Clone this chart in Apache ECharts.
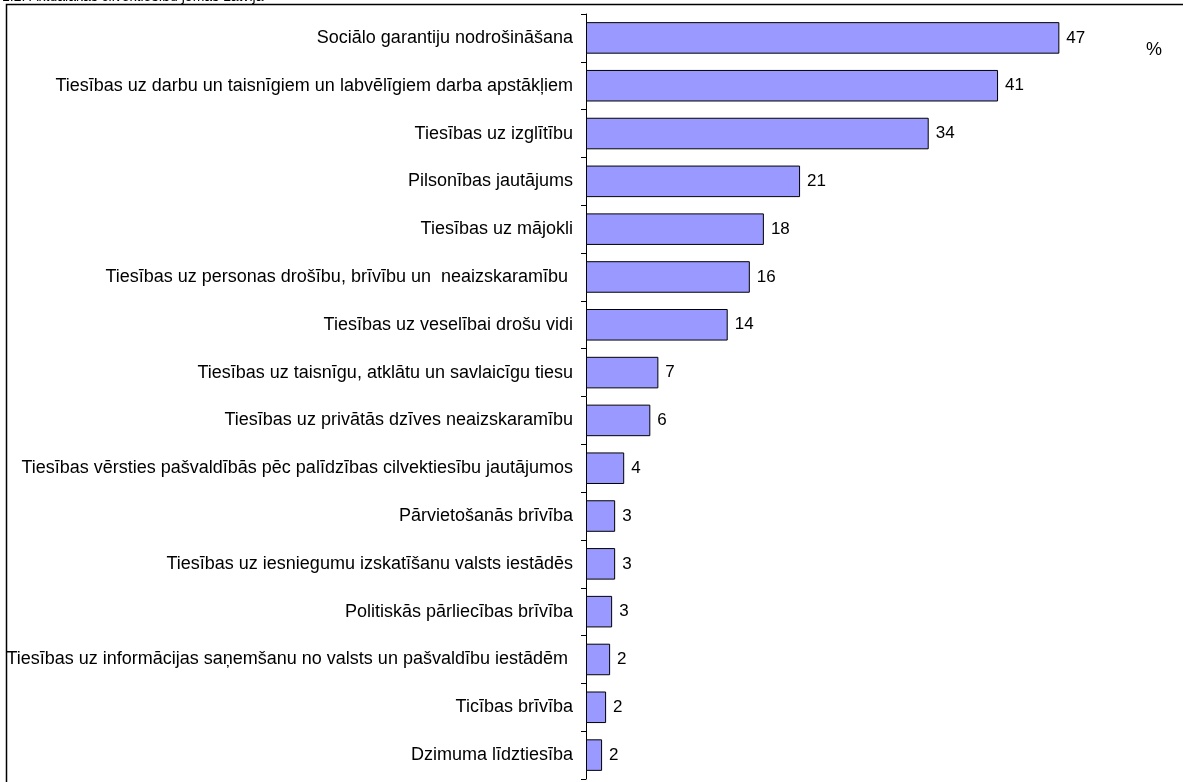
<!DOCTYPE html>
<html>
<head>
<meta charset="utf-8">
<script src="https://cdn.jsdelivr.net/npm/echarts@6/dist/echarts.min.js"></script>
<style>
html,body{margin:0;padding:0;background:#fff;}
#chart{width:1183px;height:782px;}
</style>
</head>
<body>
<div id="chart"></div>
<script>
var categories = [
  "Sociālo garantiju nodrošināšana",
  "Tiesības uz darbu un taisnīgiem un labvēlīgiem darba apstākļiem",
  "Tiesības uz izglītību",
  "Pilsonības jautājums",
  "Tiesības uz mājokli",
  "Tiesības uz personas drošību, brīvību un  neaizskaramību ",
  "Tiesības uz veselībai drošu vidi",
  "Tiesības uz taisnīgu, atklātu un savlaicīgu tiesu",
  "Tiesības uz privātās dzīves neaizskaramību",
  "Tiesības vērsties pašvaldībās pēc palīdzības cilvektiesību jautājumos",
  "Pārvietošanās brīvība",
  "Tiesības uz iesniegumu izskatīšanu valsts iestādēs",
  "Politiskās pārliecības brīvība",
  "Tiesības uz informācijas saņemšanu no valsts un pašvaldību iestādēm ",
  "Ticības brīvība",
  "Dzimuma līdztiesība"
];
var values = [47.1, 41.0, 34.1, 21.3, 17.7, 16.3, 14.1, 7.2, 6.4, 3.8, 2.9, 2.9, 2.6, 2.4, 2.0, 1.6];
var shownLabels = ["47", "41", "34", "21", "18", "16", "14", "7", "6", "4", "3", "3", "3", "2", "2", "2"];
var unitText = "%";
var titleText = "1.2. Aktuālākās cilvēktiesību jomas Latvijā";

var chart = echarts.init(document.getElementById('chart'), null, {renderer: 'canvas'});
var font = 'Liberation Sans, Arial, sans-serif';
chart.setOption({
  animation: false,
  backgroundColor: '#fff',
  grid: {left: 586, right: 94.5, top: 14, bottom: 3, containLabel: false},
  xAxis: {type: 'value', min: 0, max: 50, show: false},
  yAxis: {
    type: 'category',
    data: categories,
    inverse: true,
    axisLine: {show: true, lineStyle: {color: '#000', width: 1}},
    axisTick: {show: true, length: 5, lineStyle: {color: '#000'}},
    axisLabel: {color: '#000', fontSize: 18, fontFamily: font, margin: 13}
  },
  series: [{
    type: 'bar',
    data: values,
    barCategoryGap: '34%',
    itemStyle: {color: '#9999FF', borderColor: '#000', borderWidth: 1},
    label: {
      show: true, position: 'right', distance: 7,
      color: '#000', fontSize: 17, fontFamily: font,
      formatter: function (p) { return shownLabels[p.dataIndex]; }
    }
  }],
  graphic: [
    {type: 'rect', shape: {x: 6.5, y: 4.5, width: 1200, height: 800},
     style: {fill: null, stroke: '#000', lineWidth: 1.5}, silent: true},
    {type: 'text', x: 2, y: -10, style: {text: titleText, font: '14px ' + font, fill: '#000'}},
    {type: 'text', x: 1146, y: 41, style: {text: unitText, font: '18px ' + font, fill: '#000'}}
  ]
});
</script>
</body>
</html>
